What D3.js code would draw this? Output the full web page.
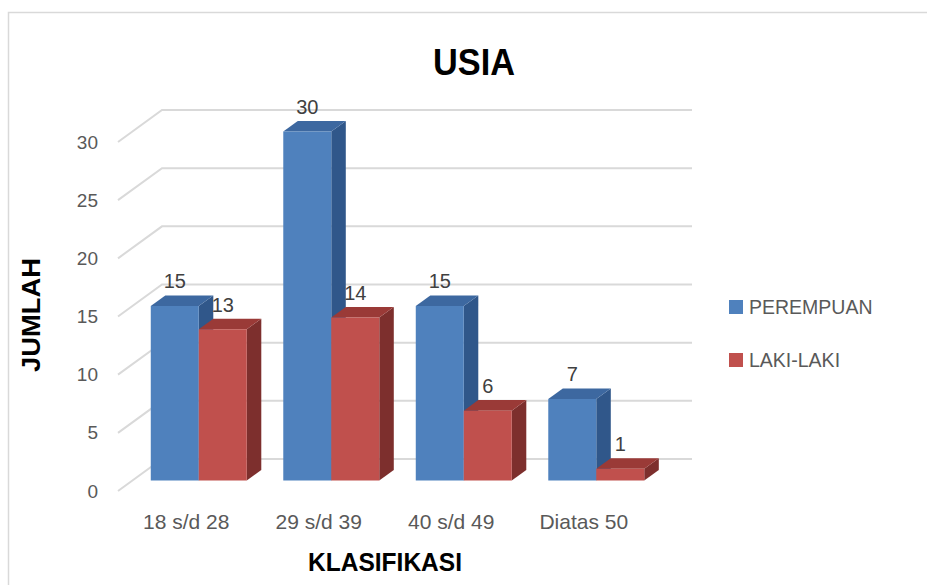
<!DOCTYPE html>
<html>
<head>
<meta charset="utf-8">
<script src="https://cdn.jsdelivr.net/npm/d3@7"></script>
<style>
  body { margin: 0; background: #fff; }
  text { font-family: "Liberation Sans", Arial, sans-serif; }
</style>
</head>
<body>
<script>
// Data
const categories = ['18 s/d 28', '29 s/d 39', '40 s/d 49', 'Diatas 50'];
const seriesNames = ['PEREMPUAN', 'LAKI-LAKI'];
const perempuan = [15, 30, 15, 7];
const lakiLaki = [13, 14, 6, 1];
const yTicks = [0, 5, 10, 15, 20, 25, 30];

const colors = {
  'PEREMPUAN': { front: '#4f81bd', top: '#3d68a0', side: '#30578a' },
  'LAKI-LAKI': { front: '#c0504d', top: '#9a3a37', side: '#7d2f2d' }
};

const width = 927, height = 585;

// depth of the 3D box (offset from front plane to back wall)
const depth = { dx: 44, dy: -32 };
const barDepth = [0.33, 0.66];

const svg = d3.select('body')
  .append('svg')
  .attr('width', width)
  .attr('height', height);

// outer chart border (runs off the page right/bottom)
svg.append('rect')
  .attr('x', 8.5)
  .attr('y', 12.5)
  .attr('width', 940)
  .attr('height', 600)
  .attr('fill', 'none')
  .attr('stroke', '#d9d9d9')
  .attr('stroke-width', 1.5);

// scales on the front plane
const x = d3.scaleBand()
  .domain(categories)
  .range([118, 648]);

const xInner = d3.scaleBand()
  .domain(seriesNames)
  .range([0, 96]);

const y = d3.scaleLinear()
  .domain([0, 30])
  .range([491, 142]);

const proj = (px, py, d) => [px + depth.dx * d, py + depth.dy * d];

// gridlines: left wall diagonals + back wall
const grid = svg.append('g').attr('class', 'grid');

yTicks.forEach(t => {
  const f = proj(x.range()[0], y(t), 0);
  const b = proj(x.range()[0], y(t), 1);
  const e = proj(x.range()[1], y(t), 1);
  grid.append('polyline')
    .attr('points', [f, b, e].map(p => p.join(',')).join(' '))
    .attr('fill', 'none')
    .attr('stroke', '#d9d9d9')
    .attr('stroke-width', 2);
});

// tick labels
svg.append('g')
  .selectAll('text')
  .data(yTicks)
  .enter()
  .append('text')
  .text(d => d)
  .attr('x', 98)
  .attr('y', d => y(d))
  .attr('text-anchor', 'end')
  .attr('dominant-baseline', 'central')
  .attr('font-size', 19)
  .attr('fill', '#595959');

// bars
const rows = [];
categories.forEach((c, i) => {
  rows.push({ cat: c, series: 'PEREMPUAN', value: perempuan[i] });
  rows.push({ cat: c, series: 'LAKI-LAKI', value: lakiLaki[i] });
});

const bars = svg.append('g').attr('class', 'bars');

rows.forEach(r => {
  const band0 = x(r.cat) + (x.bandwidth() - 96) / 2 + xInner(r.series);
  const band1 = band0 + xInner.bandwidth();
  const d0 = barDepth[0], d1 = barDepth[1];
  const fbl = proj(band0, y(0), d0), fbr = proj(band1, y(0), d0);
  const ftl = proj(band0, y(r.value), d0), ftr = proj(band1, y(r.value), d0);
  const btl = proj(band0, y(r.value), d1), btr = proj(band1, y(r.value), d1);
  const bbr = proj(band1, y(0), d1);
  const col = colors[r.series];
  const poly = pts => pts.map(p => p.join(',')).join(' ');

  // side face
  bars.append('polygon')
    .attr('points', poly([fbr, ftr, btr, bbr]))
    .attr('fill', col.side);
  // top face
  bars.append('polygon')
    .attr('points', poly([ftl, ftr, btr, btl]))
    .attr('fill', col.top);
  // front face
  bars.append('polygon')
    .attr('points', poly([fbl, fbr, ftr, ftl]))
    .attr('fill', col.front);

  // data label
  svg.append('text')
    .attr('class', 'label')
    .text(r.value)
    .attr('x', (band0 + band1) / 2 + depth.dx * d0)
    .attr('y', btl[1] - 7)
    .attr('text-anchor', 'middle')
    .attr('font-size', 20)
    .attr('fill', '#404040');
});

// category labels
svg.append('g')
  .selectAll('text')
  .data(categories)
  .enter()
  .append('text')
  .text(d => d)
  .attr('x', d => x(d) + x.bandwidth() / 2 + 2)
  .attr('y', 521)
  .attr('text-anchor', 'middle')
  .attr('dominant-baseline', 'central')
  .attr('font-size', 21)
  .attr('fill', '#595959');

// titles
svg.append('text')
  .text('USIA')
  .attr('x', 474)
  .attr('y', 62)
  .attr('text-anchor', 'middle')
  .attr('dominant-baseline', 'central')
  .attr('font-size', 36)
  .attr('font-weight', 'bold')
  .attr('textLength', 82)
  .attr('lengthAdjust', 'spacingAndGlyphs')
  .attr('fill', '#000');

svg.append('text')
  .text('KLASIFIKASI')
  .attr('x', 385)
  .attr('y', 562)
  .attr('text-anchor', 'middle')
  .attr('dominant-baseline', 'central')
  .attr('font-size', 26)
  .attr('font-weight', 'bold')
  .attr('textLength', 154)
  .attr('lengthAdjust', 'spacingAndGlyphs')
  .attr('fill', '#000');

svg.append('text')
  .text('JUMLAH')
  .attr('transform', 'translate(31, 315) rotate(-90)')
  .attr('text-anchor', 'middle')
  .attr('dominant-baseline', 'central')
  .attr('font-size', 26)
  .attr('font-weight', 'bold')
  .attr('textLength', 114)
  .attr('lengthAdjust', 'spacingAndGlyphs')
  .attr('fill', '#000');

// legend
const legend = svg.append('g')
  .selectAll('g')
  .data(seriesNames)
  .enter()
  .append('g')
  .attr('transform', (d, i) => `translate(729, ${300 + i * 53})`);

legend.append('rect')
  .attr('width', 14)
  .attr('height', 14)
  .attr('fill', d => colors[d].front);

legend.append('text')
  .text(d => d)
  .attr('x', 20)
  .attr('y', 7)
  .attr('dominant-baseline', 'central')
  .attr('font-size', 19.5)
  .attr('fill', '#595959');
</script>
</body>
</html>
